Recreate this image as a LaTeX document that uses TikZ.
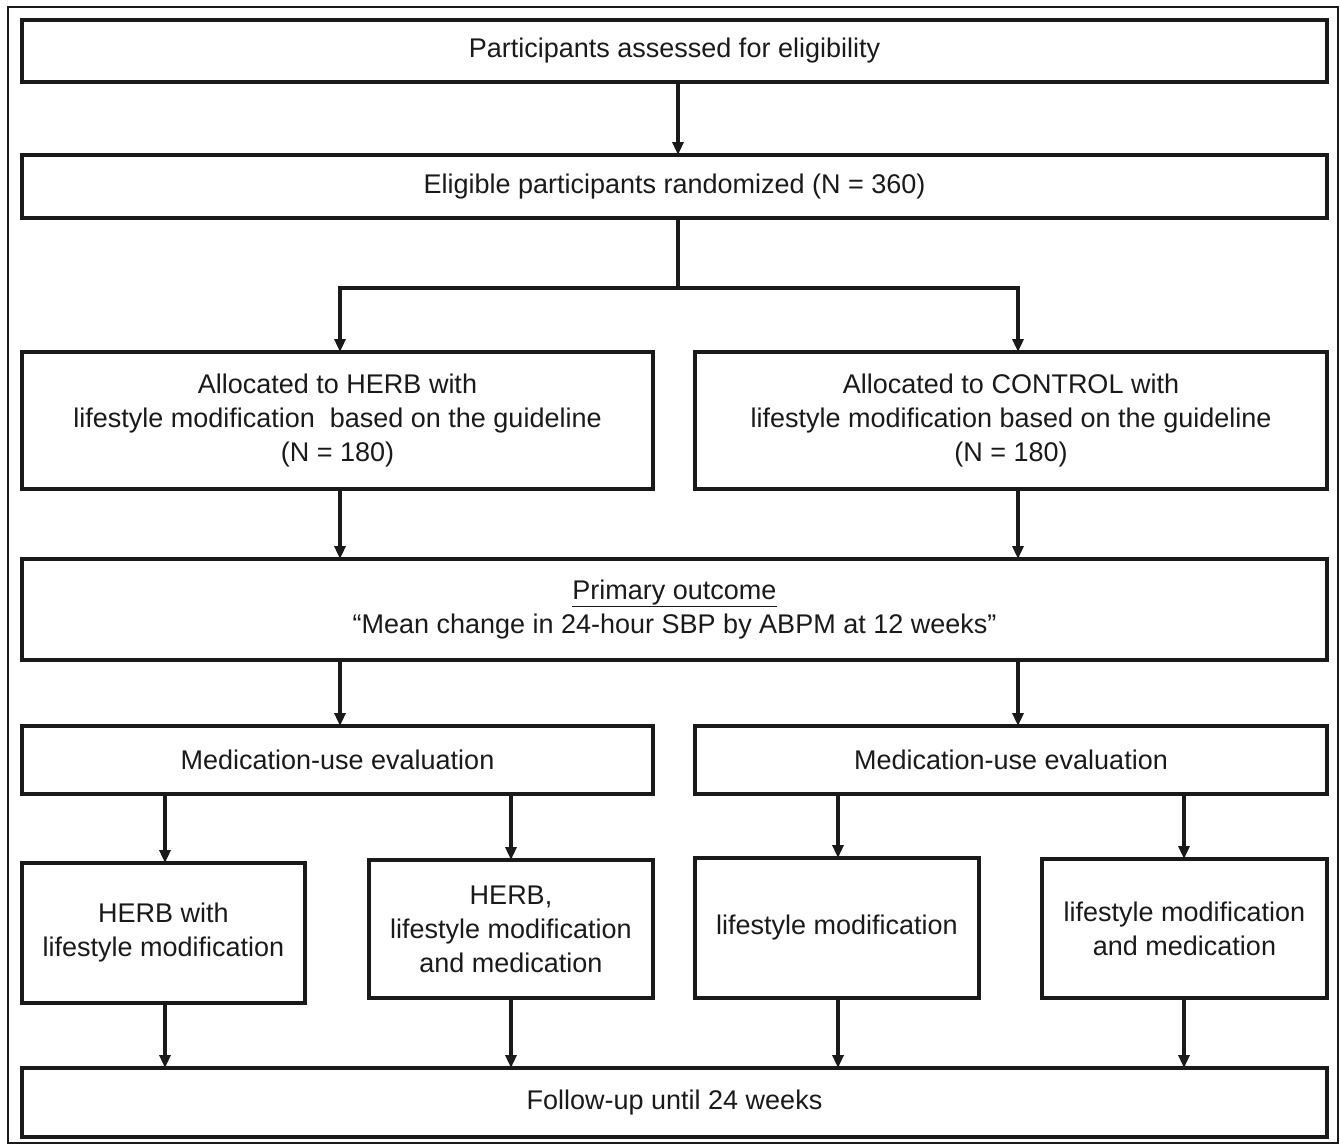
\documentclass[tikz,border=0pt]{standalone}
\usepackage{fontspec}
\setmainfont{Liberation Sans}
\usetikzlibrary{arrows.meta}
\definecolor{ink}{HTML}{1A1A1A}
\begin{document}
\begin{tikzpicture}[x=1pt,y=-1pt,
  box/.style={draw=ink,line width=4pt,rectangle,inner sep=0pt,outer sep=0pt,
    align=center,text=ink,font=\fontsize{27}{34}\selectfont},
  arr/.style={draw=ink,line width=3.2pt,-{Triangle[length=13pt,width=11pt]}},
  ln/.style={draw=ink,line width=3.2pt}]
\useasboundingbox (0,0) rectangle (1340,1145);
\draw[ink,line width=2pt] (8,7) rectangle (1338,1143);
% nodes
\node[box,minimum width=1305pt,minimum height=62pt] (b1) at (674.5,51) {Participants assessed for eligibility};
\node[box,minimum width=1305pt,minimum height=63pt] (b2) at (674.5,186.5) {Eligible participants randomized (N = 360)};
\node[box,minimum width=631pt,minimum height=137pt] (b3l) at (337.5,420.5) {Allocated to HERB with\\lifestyle modification\ \ based on the guideline\\(N = 180)};
\node[box,minimum width=632pt,minimum height=137pt] (b3r) at (1011,420.5) {Allocated to CONTROL with\\lifestyle modification based on the guideline\\(N = 180)};
\node[box,minimum width=1305pt,minimum height=101pt] (b4) at (674.5,609.5) {\underline{Primary outcome}\\“Mean change in 24-hour SBP by ABPM at 12 weeks”};
\node[box,minimum width=631pt,minimum height=68pt] (b5l) at (337.5,760) {Medication-use evaluation};
\node[box,minimum width=632pt,minimum height=68pt] (b5r) at (1011,760) {Medication-use evaluation};
\node[box,minimum width=283pt,minimum height=140pt] (b6a) at (163.5,933) {HERB with\\lifestyle modification};
\node[box,minimum width=284pt,minimum height=138pt] (b6b) at (511,929) {HERB,\\lifestyle modification\\and medication};
\node[box,minimum width=284pt,minimum height=140pt] (b6c) at (837,928) {lifestyle modification};
\node[box,minimum width=285pt,minimum height=139pt] (b6d) at (1184.5,928.5) {lifestyle modification\\and medication};
\node[box,minimum width=1305pt,minimum height=69pt] (b7) at (674.5,1102.5) {Follow-up until 24 weeks};
% x positions
\coordinate (xm) at (678,0);
\coordinate (xl) at (340,0);
\coordinate (xr) at (1018,0);
\coordinate (xa) at (165,0);
\coordinate (xb) at (511,0);
\coordinate (xc) at (838,0);
\coordinate (xd) at (1184,0);
\coordinate (split) at (678,288);
% connectors
\draw[arr] (b1.south -| xm) -- (b2.north -| xm);
\draw[ln] (b2.south -| xm) -- (split);
\draw[arr] (split) -| (b3l.north -| xl);
\draw[arr] (split) -| (b3r.north -| xr);
\draw[arr] (b3l.south -| xl) -- (b4.north -| xl);
\draw[arr] (b3r.south -| xr) -- (b4.north -| xr);
\draw[arr] (b4.south -| xl) -- (b5l.north -| xl);
\draw[arr] (b4.south -| xr) -- (b5r.north -| xr);
\draw[arr] (b5l.south -| xa) -- (b6a.north -| xa);
\draw[arr] (b5l.south -| xb) -- (b6b.north -| xb);
\draw[arr] (b5r.south -| xc) -- (b6c.north -| xc);
\draw[arr] (b5r.south -| xd) -- (b6d.north -| xd);
\draw[arr] (b6a.south -| xa) -- (b7.north -| xa);
\draw[arr] (b6b.south -| xb) -- (b7.north -| xb);
\draw[arr] (b6c.south -| xc) -- (b7.north -| xc);
\draw[arr] (b6d.south -| xd) -- (b7.north -| xd);
\end{tikzpicture}
\end{document}
